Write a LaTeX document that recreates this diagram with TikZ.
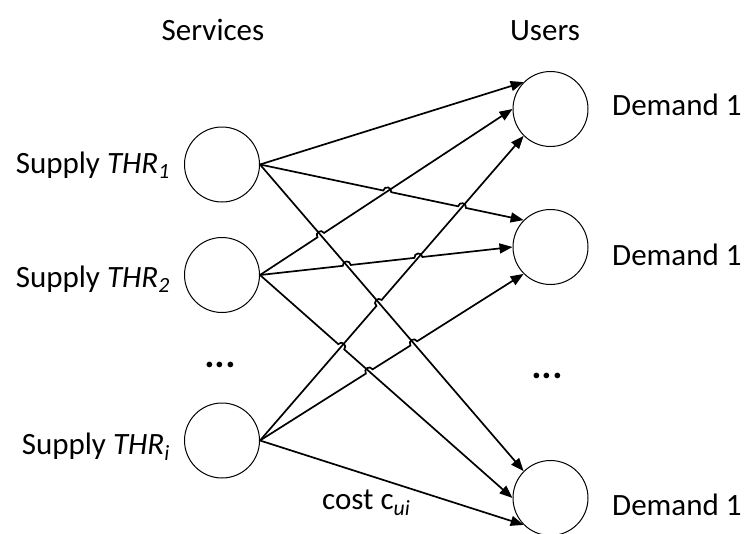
\documentclass[tikz,border=0pt]{standalone}
\usepackage{fontspec}
\setmainfont{Carlito}
\usetikzlibrary{arrows.meta,calc}
\tikzset{
  unit/.style={circle,draw,line width=1pt,minimum size=75pt,inner sep=0pt},
  lbl/.style={font=\fontsize{31}{37}\selectfont,inner sep=0pt},
  dotlbl/.style={font=\fontsize{38}{44}\selectfont\bfseries,inner sep=0pt},
  edge/.style={line width=1.7pt,-{Triangle[length=13pt,width=10pt]}},
}
% hop: name, crossing point, start, end
\newcommand\mkhop[4]{%
  \coordinate (#1a) at ($(#2)!4pt!(#3)$);
  \coordinate (#1b) at ($(#2)!4pt!(#4)$);
  \coordinate (#1c) at ($(#1a)!5.3pt!90:(#1b)$);
  \coordinate (#1d) at ($(#1b)!5.3pt!-90:(#1a)$);
}
\begin{document}
\begin{tikzpicture}[x=1pt,y=-1pt]
\useasboundingbox (0,0) rectangle (744,533);
% circles
\node[unit] (n1) at (222,164.5) {};
\node[unit] (n2) at (222,275) {};
\node[unit] (n3) at (222,440.5) {};
\node[unit] (d1) at (550.5,109) {};
\node[unit] (d2) at (550.5,247) {};
\node[unit] (d3) at (550.5,498) {};
% labels
\node[lbl,anchor=base] (svc) at (213,40) {Services};
\node[lbl,anchor=base] (usr) at (545,40) {Users};
\node[lbl,anchor=base east] (sp1) at (170,173) {Supply \textit{THR}\textsubscript{\textit{1}}};
\node[lbl,anchor=base east] (sp2) at (170,287) {Supply \textit{THR}\textsubscript{\textit{2}}};
\node[lbl,anchor=base east] (sp3) at (170,454) {Supply \textit{THR}\textsubscript{\textit{i}}};
\node[lbl,anchor=base west] (dm1) at (612,115) {Demand 1};
\node[lbl,anchor=base west] (dm2) at (612,265) {Demand 1};
\node[lbl,anchor=base west] (dm3) at (612,515) {Demand 1};
\node[lbl,anchor=base west] (cst) at (322,509) {cost c\textsubscript{\textit{ui}}};
\node[dotlbl,anchor=base] (ldots) at (221,367) {\textit{...}};
\node[dotlbl,anchor=base] (rdots) at (548,378) {\textit{...}};
% connection points
\coordinate (s1) at (n1.east);
\coordinate (s2) at (n2.east);
\coordinate (s3) at (n3.east);
\coordinate (e11) at (d1.135);
\coordinate (e12) at (d2.135);
\coordinate (e13) at (d3.135);
\coordinate (e21) at (d1.180);
\coordinate (e22) at (d2.180);
\coordinate (e23) at (d3.180);
\coordinate (e31) at (d1.225);
\coordinate (e32) at (d2.225);
\coordinate (e33) at (d3.225);
% crossings
\coordinate (xa) at (intersection of s1--e12 and s2--e21);
\coordinate (xb) at (intersection of s1--e12 and s3--e31);
\coordinate (xc) at (intersection of s1--e13 and s2--e21);
\coordinate (xd) at (intersection of s1--e13 and s3--e31);
\coordinate (xe) at (intersection of s1--e13 and s2--e22);
\coordinate (xf) at (intersection of s2--e22 and s3--e31);
\coordinate (xg) at (intersection of s2--e23 and s3--e32);
\coordinate (xh) at (intersection of s1--e13 and s3--e32);
\coordinate (xi) at (intersection of s2--e23 and s3--e31);
\mkhop{ha}{xa}{s1}{e12}
\mkhop{hb}{xb}{s1}{e12}
\mkhop{hc}{xc}{s2}{e21}
\mkhop{hd}{xd}{s3}{e31}
\mkhop{he}{xe}{s2}{e22}
\mkhop{hf}{xf}{s2}{e22}
\mkhop{hg}{xg}{s3}{e32}
\mkhop{hh}{xh}{s3}{e32}
\mkhop{hi}{xi}{s2}{e23}
% edges
\draw[edge] (s1) -- (e11);
\draw[edge] (s1) -- (haa) .. controls (hac) and (had) .. (hab) -- (hba) .. controls (hbc) and (hbd) .. (hbb) -- (e12);
\draw[edge] (s1) -- (e13);
\draw[edge] (s2) -- (hca) .. controls (hcc) and (hcd) .. (hcb) -- (e21);
\draw[edge] (s2) -- (hea) .. controls (hec) and (hed) .. (heb) -- (hfa) .. controls (hfc) and (hfd) .. (hfb) -- (e22);
\draw[edge] (s2) -- (hia) .. controls (hic) and (hid) .. (hib) -- (e23);
\draw[edge] (s3) -- (hda) .. controls (hdc) and (hdd) .. (hdb) -- (e31);
\draw[edge] (s3) -- (hga) .. controls (hgc) and (hgd) .. (hgb) -- (hha) .. controls (hhc) and (hhd) .. (hhb) -- (e32);
\draw[edge] (s3) -- (e33);
\end{tikzpicture}
\end{document}
